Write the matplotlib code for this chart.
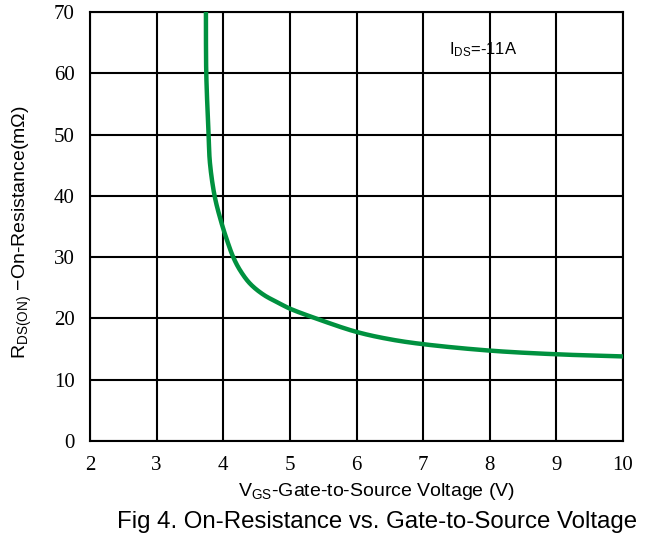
import matplotlib
matplotlib.use("Agg")
import matplotlib.pyplot as plt
import numpy as np

vgs = [3.74, 3.745, 3.78, 3.80, 3.87, 3.96, 4.055, 4.15, 4.25, 4.40, 4.60, 4.835, 5.0, 5.43, 6.0, 6.5, 7.0, 8.0, 9.0, 10.0]
rds = [70.0, 60.0, 50.0, 45.4, 40.0, 36.1, 32.8, 30.0, 27.9, 25.7, 23.9, 22.5, 21.6, 19.85, 17.8, 16.6, 15.8, 14.75, 14.15, 13.8]
xticks = [2, 3, 4, 5, 6, 7, 8, 9, 10]
yticks = [0, 10, 20, 30, 40, 50, 60, 70]

plt.rcParams['mathtext.fontset'] = 'custom'
plt.rcParams['mathtext.rm'] = 'Liberation Sans'
plt.rcParams['mathtext.it'] = 'Liberation Sans'

fig = plt.figure(figsize=(6.5, 5.39), dpi=100)
ax = fig.add_axes([90/650, 98/539, 533/650, 429/539])


def centripetal_cr(P, n=25):
    """Smooth rendering through the read points (centripetal Catmull-Rom)."""
    P = np.vstack([2*P[0]-P[1], P, 2*P[-1]-P[-2]])
    out = []
    for i in range(1, len(P) - 2):
        p0, p1, p2, p3 = P[i-1], P[i], P[i+1], P[i+2]
        t0 = 0.0
        t1 = t0 + np.linalg.norm(p1 - p0) ** 0.5
        t2 = t1 + np.linalg.norm(p2 - p1) ** 0.5
        t3 = t2 + np.linalg.norm(p3 - p2) ** 0.5
        t = np.linspace(t1, t2, n, endpoint=False)[:, None]
        a1 = (t1 - t)/(t1 - t0)*p0 + (t - t0)/(t1 - t0)*p1
        a2 = (t2 - t)/(t2 - t1)*p1 + (t - t1)/(t2 - t1)*p2
        a3 = (t3 - t)/(t3 - t2)*p2 + (t - t2)/(t3 - t2)*p3
        b1 = (t2 - t)/(t2 - t0)*a1 + (t - t0)/(t2 - t0)*a2
        b2 = (t3 - t)/(t3 - t1)*a2 + (t - t1)/(t3 - t1)*a3
        out.append((t2 - t)/(t2 - t1)*b1 + (t - t1)/(t2 - t1)*b2)
    out.append(P[-2][None, :])
    return np.vstack(out)

sx, sy = 66.6, 6.13
P = np.column_stack([np.array(vgs) * sx, np.array(rds) * sy])
C = centripetal_cr(P)
ax.plot(C[:, 0] / sx, C[:, 1] / sy, color='#00913F', lw=3.2, solid_capstyle='butt', zorder=3)

ax.set_xlim(2, 10)
ax.set_ylim(0, 70)
ax.set_xticks(xticks)
ax.set_yticks(yticks)
ax.set_xticklabels([str(t) for t in xticks], family='Liberation Serif', fontsize=15)
ax.set_yticklabels([str(t) for t in yticks], family='Liberation Serif', fontsize=15)
ax.tick_params(length=0, pad=11)
ax.grid(True, color='black', lw=1.5)
for sp in ax.spines.values():
    sp.set_linewidth(1.5)

ax.set_xlabel(r'V$_{\mathrm{GS}}$-Gate-to-Source Voltage (V)', family='Liberation Sans', fontsize=14)
ax.xaxis.set_label_coords((376 - 90) / 533, -(491 - 441) / 429)
ax.xaxis.label.set_va('center')
ax.set_ylabel(r'R$_{\mathrm{DS(ON)}}$ $-$On-Resistance(m$\Omega$)', family='Liberation Sans', fontsize=14)
ax.yaxis.set_label_coords(-(90 - 22) / 533, (441 - 232) / 429)
ax.yaxis.label.set_va('center')
ax.text(7.39, 63.8, r'I$_{\mathrm{DS}}$=-11A', family='Liberation Sans', fontsize=12, va='center', ha='left')
fig.text(377/650, 1 - 522/539, 'Fig 4. On-Resistance vs. Gate-to-Source Voltage', family='Liberation Sans', fontsize=17.3, ha='center', va='center')

fig.savefig('out.png', dpi=100)
